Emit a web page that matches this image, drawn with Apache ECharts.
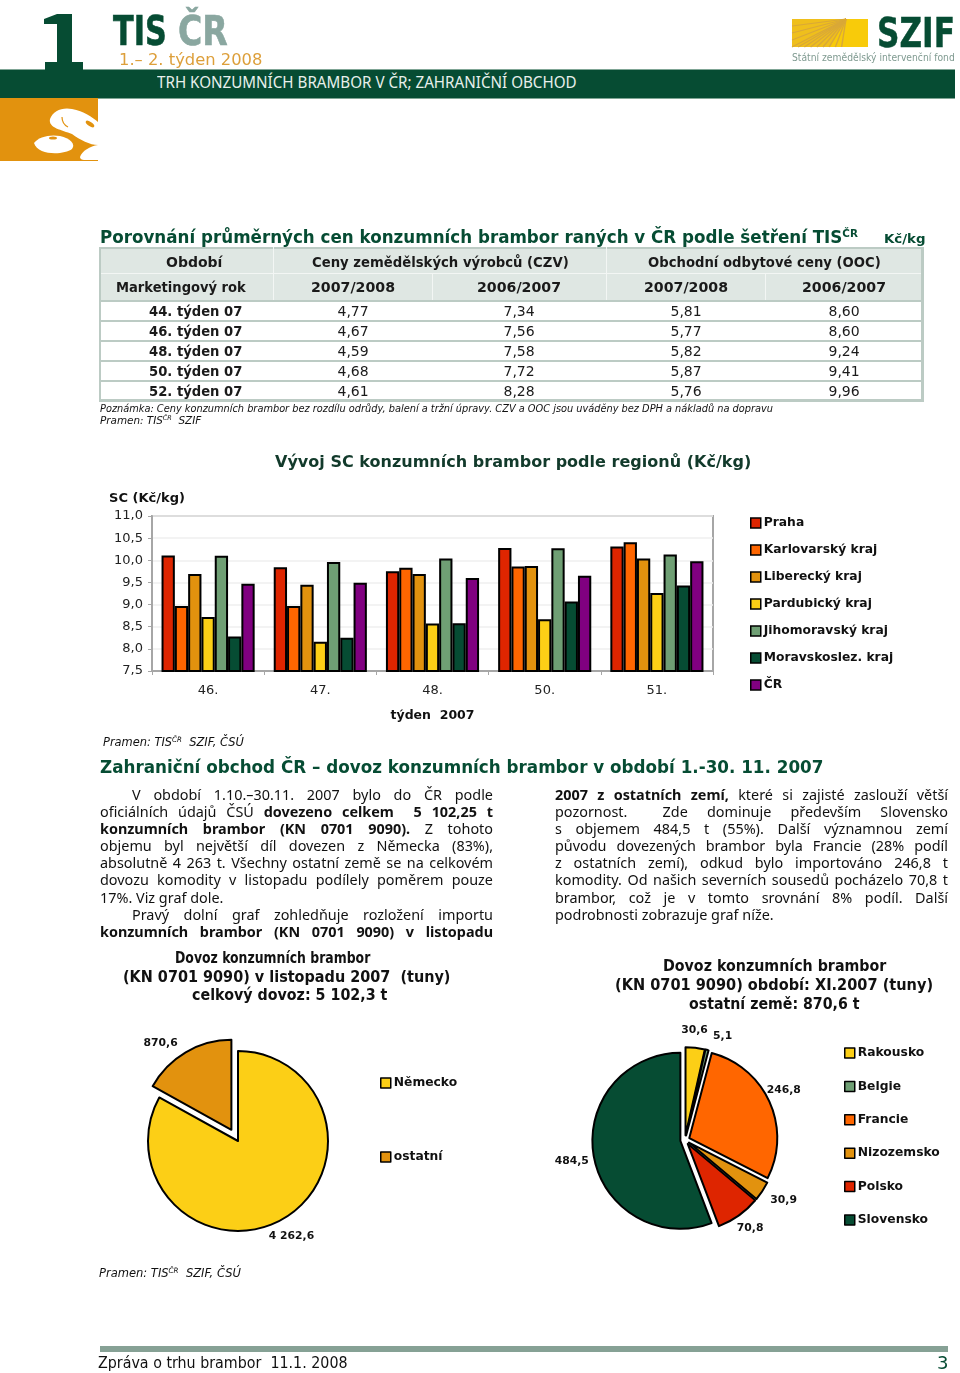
<!DOCTYPE html>
<html lang="cs"><head><meta charset="utf-8">
<script src="https://cdn.jsdelivr.net/npm/echarts@6/dist/echarts.min.js"></script>
<style>
html,body{margin:0;padding:0;background:#fff;}
#page{position:relative;width:960px;height:1373px;overflow:hidden;font-family:"DejaVu Sans",sans-serif;}
#chart{position:absolute;left:0;top:0;width:960px;height:1373px;}
.t{position:absolute;white-space:nowrap;transform-origin:0 50%;}
.b{position:absolute;}
.ind{display:inline-block;}
sup{font-size:.62em;line-height:0;vertical-align:.55em;}
</style></head><body>
<div id="page"><div id="chart"></div></div>
<script>
// ---- data ----
const weeks = ['46.','47.','48.','50.','51.'];
const praha = [10.11,9.84,9.75,10.28,10.31];
const karlovarsky = [8.97,8.97,9.83,9.86,10.41];
const liberecky = [9.69,9.45,9.69,9.87,10.04];
const pardubicky = [8.72,8.16,8.57,8.67,9.26];
const jihomoravsky = [10.10,9.96,10.04,10.27,10.13];
const moravskoslez = [8.28,8.25,8.58,9.07,9.43];
const cr = [9.47,9.49,9.60,9.65,9.98];
const barNames = ['Praha','Karlovarský kraj','Liberecký kraj','Pardubický kraj','Jihomoravský kraj','Moravskoslez. kraj','ČR'];
const pie1Names = ['Německo','ostatní'];
const pie1Values = [4262.6,870.6];
const pie1Labels = ['4 262,6','870,6'];
const pie2Names = ['Rakousko','Belgie','Francie','Nizozemsko','Polsko','Slovensko'];
const pie2Values = [30.6,5.1,246.8,30.9,70.8,484.5];
const pie2Labels = ['30,6','5,1','246,8','30,9','70,8','484,5'];
const tablePeriods = ['44. týden 07','46. týden 07','48. týden 07','50. týden 07','52. týden 07'];
const czv0708 = ['4,77','4,67','4,59','4,68','4,61'];
const czv0607 = ['7,34','7,56','7,58','7,72','8,28'];
const ooc0708 = ['5,81','5,77','5,82','5,87','5,76'];
const ooc0607 = ['8,60','8,60','9,24','9,41','9,96'];
const IND='<span class="ind" style="width:32px"></span>';
const leftPara = [
 IND+'V období 1.10.–30.11. 2007 bylo do ČR podle',
 'oficiálních údajů ČSÚ <b>dovezeno celkem &nbsp;5 102,25 t</b>',
 '<b>konzumních brambor (KN 0701 9090).</b> Z tohoto',
 'objemu byl největší díl dovezen z Německa (83%),',
 'absolutně 4 263 t. Všechny ostatní země se na celkovém',
 'dovozu komodity v listopadu podílely poměrem pouze',
 '17%. Viz graf dole.',
 IND+'Pravý dolní graf zohledňuje rozložení importu',
 '<b>konzumních brambor (KN 0701 9090) v listopadu</b>'];
const rightPara = [
 '<b>2007 z ostatních zemí,</b> které si zajisté zaslouží větší',
 'pozornost. <span class="ind" style="width:16px"></span>Zde dominuje především Slovensko',
 's objemem 484,5 t (55%). Další významnou zemí',
 'původu dovezených brambor byla Francie (28% podíl',
 'z ostatních zemí), odkud bylo importováno 246,8 t',
 'komodity. Od našich severních sousedů pocházelo 70,8 t',
 'brambor, což je v tomto srovnání 8% podíl. Další',
 'podrobnosti zobrazuje graf níže.'];

// ---- colours ----
const GREEN='#064c33', YEL='#fccf16', DOR='#e2920e', ORG='#ff6600', RED='#de2500', SAGE='#6f9f74', PUR='#800080';
const barColors=[RED,ORG,DOR,YEL,SAGE,GREEN,PUR];
const barSeries=[praha,karlovarsky,liberecky,pardubicky,jihomoravsky,moravskoslez,cr];

// ---- page helpers ----
const page=document.getElementById('page');
function T(x,y,html,o={}){
  const d=document.createElement('div');d.className='t';d.innerHTML=html;
  const lh=o.lh||20;
  d.style.cssText+=`left:${x}px;top:${y-lh/2}px;line-height:${lh}px;font-size:${o.s||13}px;color:${o.c||'#111'};font-weight:${o.b?'bold':'normal'};font-style:${o.i?'italic':'normal'};font-family:${o.f||'"DejaVu Sans",sans-serif'};`;
  if(o.stroke)d.style.webkitTextStroke=o.stroke+'px '+(o.c||'#111');
  page.appendChild(d);
  if(o.j){d.style.width=o.j+'px';d.style.textAlign='justify';d.style.textAlignLast=o.last?'left':'justify';}
  const w=d.offsetWidth;
  if(o.w){d.style.transform=`scaleX(${o.w/w})`;}
  if(o.cx!==undefined){const ww=o.w||w;d.style.left=(o.cx-ww/2)+'px';}
  return d;
}
function R(x,y,w,h,c){const d=document.createElement('div');d.className='b';d.style.cssText=`left:${x}px;top:${y}px;width:${w}px;height:${h}px;background:${c};`;page.appendChild(d);return d;}

// ---- header ----
R(0,70,955,28,GREEN);
R(0,69,955,1,'#7fa595');R(0,98,955,1,'#7fa595');
T(113,30.5,'TIS',{s:41,b:1,c:GREEN,lh:50,w:54,stroke:0.6});
T(178,30.5,'ČR',{s:41,b:1,c:'#8aa7a0',lh:50,w:50,stroke:0.6});
T(119,60,'1.– 2. týden 2008',{s:16,c:'#dd9f3a',w:143});
T(157,82,'TRH KONZUMNÍCH BRAMBOR V ČR; ZAHRANIČNÍ OBCHOD',{s:15.5,c:'#e8f0ec',w:420,f:'"Noto Sans",sans-serif'});
const deco=document.createElement('div');
deco.style.cssText='position:absolute;left:0;top:0;';
let fan='';
for(let k=0;k<9;k++){fan+=`<path d="M846 19 L${792+k*6.2} 47" stroke="#d9a838" stroke-width="1.4"/>`;}
for(let k=1;k<4;k++){fan+=`<path d="M846 19 L792 ${19+k*7}" stroke="#d9a838" stroke-width="1.2"/>`;}
deco.innerHTML=`<svg width="960" height="170" style="display:block">
<path d="M44 19 L57 14 L72 14 L72 62 L83 62 L83 70 L45 70 L45 62 L57 62 L57 24 L44 24Z" fill="${GREEN}"/>
<rect x="0" y="98" width="98" height="63" fill="${DOR}"/>
<path d="M50 119 C53 111 62 107 72 109 C84 111 92 117 98 122 L98 145 C90 145 80 140 72 134 C62 130 48 128 50 119Z" fill="#fff"/>
<path d="M62 117 C62 122 64 125 68 127" stroke="${DOR}" stroke-width="1.2" fill="none"/>
<ellipse cx="90" cy="124" rx="5" ry="2" fill="${DOR}" transform="rotate(35 90 124)"/>
<path d="M34 143 C38 137 50 134 60 136 C70 138 76 144 72 149 C64 155 38 156 34 143Z" fill="#fff"/>
<ellipse cx="53" cy="138" rx="4" ry="1.6" fill="${DOR}"/>
<path d="M80 157 C82 151 90 146 98 145 L98 160 L84 160 C82 160 80 159 80 157Z" fill="#fff"/>
<rect x="792" y="19" width="76" height="28" fill="#f8cb0a"/>
<path d="M792 19 H846 L830 47 H792Z" fill="#efbf1c"/>
${fan}
</svg>`;
page.appendChild(deco);
T(877,33,'SZIF',{s:40,b:1,c:GREEN,lh:46,w:78,stroke:0.5});
T(792,58,'Státní zemědělský intervenční fond',{s:10,c:'#7f9a90',w:163});

// ---- price table ----
T(100,237,'Porovnání průměrných cen konzumních brambor raných v ČR podle šetření TIS<sup>ČR</sup>',{s:18,b:1,c:GREEN,lh:24,w:758});
T(884,239,'Kč/kg',{s:13,b:1,c:GREEN,w:41});
const TL=99,TR=924,TT=247,TB=402, TBORD='#bccbc4', THEAD='#dfe7e3';
R(TL,TT,TR-TL,53,THEAD);
[273,300,320,340,360,380].forEach(y=>R(TL,y,TR-TL,y===273?1:2,y===273?'#f3f6f4':TBORD));
R(TL,TT,TR-TL,2,TBORD);R(TL,TB-3,TR-TL,3,TBORD);R(TL,TT,2,TB-TT,TBORD);R(TR-3,TT,3,TB-TT,TBORD);
[273,606].forEach(x=>R(x,TT,1,53,'#f3f6f4'));
[432,765].forEach(x=>R(x,273,1,27,'#f3f6f4'));
const cols=[353,519,686,844];
T(0,262,'Období',{s:14,b:1,cx:194,c:'#1a1a1a'});
T(0,262,'Ceny zemědělských výrobců (CZV)',{s:14,b:1,cx:440,w:257,c:'#1a1a1a'});
T(0,262,'Obchodní odbytové ceny (OOC)',{s:14,b:1,cx:764,w:233,c:'#1a1a1a'});
T(0,287,'Marketingový rok',{s:14,b:1,cx:181,w:130,c:'#1a1a1a'});
['2007/2008','2006/2007','2007/2008','2006/2007'].forEach((h,i)=>T(0,287,h,{s:14,b:1,cx:cols[i],w:84,c:'#1a1a1a'}));
tablePeriods.forEach((p,r)=>{
  const y=311+r*20;
  T(0,y,p,{s:14,b:1,cx:195,w:93,c:'#1a1a1a'});
  [czv0708,czv0607,ooc0708,ooc0607].forEach((a,i)=>T(0,y,a[r],{s:14,cx:cols[i],c:'#1a1a1a'}));
});
T(100,408,'Poznámka: Ceny konzumních brambor bez rozdílu odrůdy, balení a tržní úpravy. CZV a OOC jsou uváděny bez DPH a nákladů na dopravu',{s:10.5,i:1,w:673});
T(100,420,'Pramen: TIS<sup>ČR</sup> &nbsp;SZIF',{s:10.5,i:1,w:101});

// ---- section titles ----
T(275,462,'Vývoj SC konzumních brambor podle regionů (Kč/kg)',{s:16.5,b:1,c:'#123a2b',w:476});
T(103,742,'Pramen: TIS<sup>ČR</sup> &nbsp;SZIF, ČSÚ',{s:12,i:1,w:141});
T(100,767,'Zahraniční obchod ČR – dovoz konzumních brambor v období 1.-30. 11. 2007',{s:18,b:1,c:GREEN,lh:24,w:723});
const bodyFont='"Noto Sans",sans-serif';
[794,811,828,845,862,879,897,914,931].forEach((y,i)=>T(100,y,leftPara[i],{s:14.4,lh:17,f:bodyFont,j:393,last:i===6}));
[794,811,828,845,862,879,897,914].forEach((y,i)=>T(555,y,rightPara[i],{s:14.4,lh:17,f:bodyFont,j:393,last:i===7}));
['Dovoz konzumních brambor','(KN 0701 9090) v listopadu 2007 &nbsp;(tuny)','celkový dovoz: 5 102,3 t'].forEach((s,i)=>
  T(0,[958,977,995][i],s,{s:15,b:1,cx:[272,286,289][i],w:[195,327,195][i]}));
['Dovoz konzumních brambor','(KN 0701 9090) období: XI.2007 (tuny)','ostatní země: 870,6 t'].forEach((s,i)=>
  T(0,[966,985,1004][i],s,{s:15,b:1,cx:[774,774,774][i],w:[223,318,171][i]}));
T(99,1273,'Pramen: TIS<sup>ČR</sup> &nbsp;SZIF, ČSÚ',{s:12,i:1,w:142});

// ---- footer ----
R(100,1346,848,6,'#86a195');
T(98,1363,'Zpráva o trhu brambor &nbsp;11.1. 2008',{s:15,w:250});
T(937,1363,'3',{s:18,c:GREEN});

// ---- charts ----
const axisGrey='#a6a6a6';
const chart=echarts.init(document.getElementById('chart'),null,{renderer:'canvas'});
const legendText={color:'#111',fontWeight:'bold',fontFamily:'DejaVu Sans',fontSize:12.3,padding:[0,0,0,-2]};
const legendCommon={orient:'vertical',icon:'rect',itemWidth:10,itemHeight:10,selectedMode:false,padding:0,
  textStyle:legendText,itemStyle:{borderColor:'#000',borderWidth:1.5}};
const pieCommon={type:'pie',animation:false,selectedMode:'multiple',silent:true,
  startAngle:90,clockwise:true,minAngle:0,avoidLabelOverlap:false,
  itemStyle:{borderColor:'#000',borderWidth:2},
  labelLine:{show:false,length:0,length2:0},emphasis:{disabled:true}};
const pieLabel=(labels)=>({show:true,position:'outer',alignTo:'none',color:'#111',fontWeight:'bold',fontSize:10.8,fontFamily:'DejaVu Sans',
  formatter:p=>labels[p.dataIndex]});
const pie1Nudge=[[-20,18],[-3,-9]];
const pie2Nudge=[[-19,-18],[1,-14],[-8,-12],[3,9],[-7,13],[0,4]];
chart.setOption({
  animation:false,
  grid:{left:152,top:516,width:561,height:155,show:true,borderColor:axisGrey,borderWidth:2,backgroundColor:'#fff'},
  xAxis:{type:'category',data:weeks,name:'týden  2007',nameLocation:'middle',nameGap:38,
    nameTextStyle:{fontWeight:'bold',fontSize:12.5,color:'#111',fontFamily:'DejaVu Sans'},
    axisLine:{lineStyle:{color:axisGrey,width:2}},axisTick:{show:true,length:4,lineStyle:{color:axisGrey}},
    axisLabel:{margin:13,fontSize:13,color:'#222',fontFamily:'DejaVu Sans'}},
  yAxis:{type:'value',min:7.5,max:11,interval:0.5,name:'SC (Kč/kg)',nameLocation:'end',nameGap:11,
    nameTextStyle:{fontWeight:'bold',fontSize:13,color:'#111',fontFamily:'DejaVu Sans',padding:[0,10,0,0]},
    axisLine:{show:true,lineStyle:{color:axisGrey,width:2}},axisTick:{show:true,length:4,lineStyle:{color:axisGrey}},
    splitLine:{show:true,lineStyle:{color:'#efefef',width:1.5}},
    axisLabel:{margin:9,fontSize:13,color:'#222',fontFamily:'DejaVu Sans',formatter:v=>v.toFixed(1).replace('.',',')}},
  legend:[
    Object.assign({},legendCommon,{left:750,top:517,itemGap:15,data:barNames}),
    Object.assign({},legendCommon,{left:380,top:1077,itemGap:62,data:pie1Names}),
    Object.assign({},legendCommon,{left:844,top:1047,itemGap:21.4,data:pie2Names})
  ],
  series:[
    ...barSeries.map((d,i)=>({type:'bar',name:barNames[i],data:d,barGap:'0%',barCategoryGap:'17%',animation:false,silent:true,
      itemStyle:{color:barColors[i],borderColor:'#000',borderWidth:2}})),
    Object.assign({},pieCommon,{name:'Dovoz listopad',center:[238,1141],radius:90,selectedOffset:13,
      label:pieLabel(pie1Labels),
      labelLayout:p=>({dx:pie1Nudge[p.dataIndex][0],dy:pie1Nudge[p.dataIndex][1],hideOverlap:false,moveOverlap:false}),
      data:pie1Names.map((n,i)=>({name:n,value:pie1Values[i],selected:i===1,itemStyle:{color:[YEL,DOR][i]}}))}),
    Object.assign({},pieCommon,{name:'Dovoz ostatní',center:[685,1140],radius:88,selectedOffset:4.7,
      label:pieLabel(pie2Labels),
      labelLayout:p=>({dx:pie2Nudge[p.dataIndex][0],dy:pie2Nudge[p.dataIndex][1],hideOverlap:false,moveOverlap:false}),
      data:pie2Names.map((n,i)=>({name:n,value:pie2Values[i],selected:true,itemStyle:{color:[YEL,SAGE,ORG,DOR,RED,GREEN][i]}}))})
  ]
});
</script></body></html>
